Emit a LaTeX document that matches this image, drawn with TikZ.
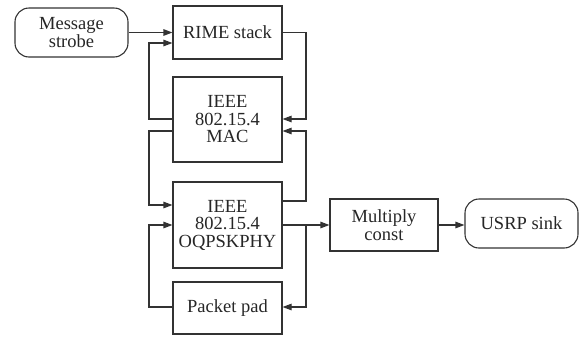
\documentclass[tikz,border=0pt]{standalone}
\usepackage{fontspec}
\setmainfont{Liberation Serif}
\usetikzlibrary{arrows.meta}
\begin{document}
\begin{tikzpicture}[x=1pt,y=-1pt,
  line width=1.1pt,
  every node/.style={font=\fontsize{18.5}{17.5}\selectfont, text=black!85, align=center, inner sep=0pt},
  block/.style={draw=black!80, minimum width=109pt},
  term/.style={draw=black!80, rounded corners=14pt, minimum width=113pt, minimum height=49pt},
  link/.style={draw=black!80, -{Triangle[length=9pt,width=6.5pt]}},
  wire/.style={draw=black!80}]
\useasboundingbox (0,0) rectangle (588,338);

% blocks
\node[term]  (strobe) at (71.5,32.5) {Message\\strobe};
\node[block, minimum height=53pt] (rime) at (227.5,32.5) {RIME stack};
\node[block, minimum height=85pt] (mac)  at (227.5,119.5) {IEEE\\802.15.4\\MAC};
\node[block, minimum height=86pt] (phy)  at (227.5,225) {IEEE\\802.15.4\\OQPSKPHY};
\node[block, minimum height=52pt] (pad)  at (227.5,308) {Packet pad};
\node[block, minimum width=108pt, minimum height=52pt] (mult) at (384,225) {Multiply\\const};
\node[term]  (usrp) at (521.5,223.5) {USRP sink};

% routing points
\coordinate (lx) at (149,0);
\coordinate (rx) at (306,0);
\coordinate (macL1) at (mac.west |- 0,119);
\coordinate (macL2) at (mac.west |- 0,131);
\coordinate (macR1) at (mac.east |- 0,119);
\coordinate (macR2) at (mac.east |- 0,131);
\coordinate (rimeL2) at (rime.west |- 0,43);
\coordinate (phyL1) at (phy.west |- 0,205);
\coordinate (phyL2) at (phy.west |- 0,225);
\coordinate (phyR1) at (phy.east |- 0,201);
\coordinate (phyR2) at (phy.east |- 0,225);
\coordinate (split) at (rx |- phyR2);
\coordinate (padL) at (pad.west |- 0,307);
\coordinate (padR) at (pad.east |- 0,307);

% connectors
\draw[link] (strobe.east) -- (rime.west);
\draw[link] (macL1) -| (lx |- rimeL2) -- (rimeL2);
\draw[link] (rime.east) -| (rx |- macR1) -- (macR1);
\draw[link] (phyR1) -| (rx |- macR2) -- (macR2);
\draw[link] (macL2) -| (lx |- phyL1) -- (phyL1);
\draw[link] (padL) -| (lx |- phyL2) -- (phyL2);
\draw[link] (phyR2) -- (mult.west);
\draw[link] (split) |- (padR);
\draw[link] (mult.east) -- (usrp.west |- mult.east);
\end{tikzpicture}
\end{document}
